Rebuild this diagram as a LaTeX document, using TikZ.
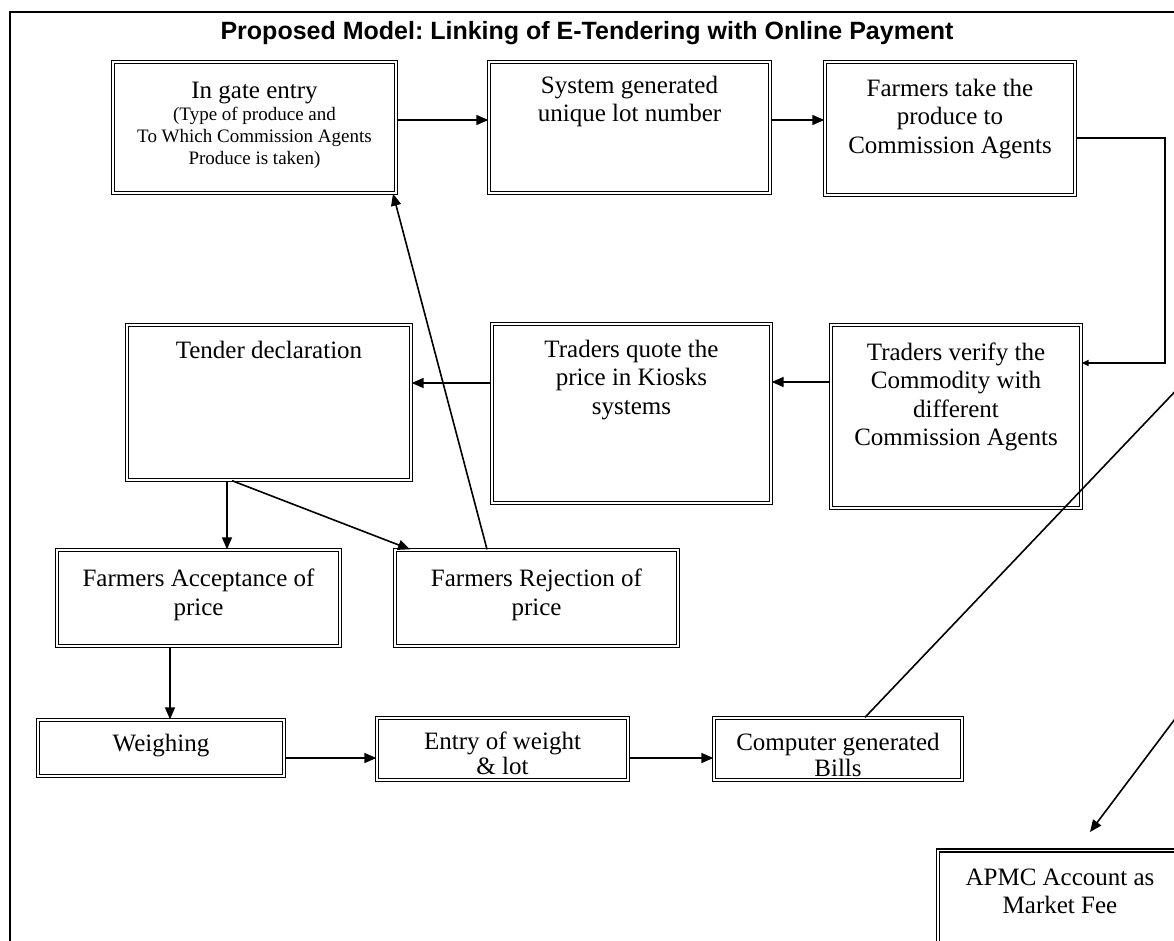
\documentclass[tikz,border=0pt]{standalone}
\usepackage{fontspec}
\setmainfont{Liberation Serif}
\newfontfamily\titlefont{Liberation Sans}
\usetikzlibrary{arrows.meta}
\frenchspacing
\begin{document}
\begin{tikzpicture}[x=1pt,y=-1pt,
  box/.style={draw, double, double distance=1.6pt, line width=1.35pt, inner sep=0pt},
  txt/.style={align=center, font=\fontsize{25}{28.5}\selectfont, inner sep=0pt},
  conn/.style={line width=1.6pt, -{Triangle[length=12pt,width=10pt]}},
  connsmall/.style={line width=1.6pt, -{Triangle[length=7pt,width=6pt]}},
  plain/.style={line width=1.6pt},
  frame/.style={line width=2.8pt},
  titlestyle/.style={font=\titlefont\bfseries\fontsize{25}{30}\selectfont, inner sep=0pt}
]
\clip (0,0) rectangle (1174,941);
\useasboundingbox (0,0) rectangle (1174,941);

% outer frame
\draw[frame] (10,960) -- (10,12) -- (1200,12);

\node[titlestyle] (title) at (587,33) {Proposed Model: Linking of E-Tendering with Online Payment};

% boxes (outer size minus about 4)
\node[box, minimum width=283pt, minimum height=131pt] (b1) at (254.5,127.5) {};
\node[box, minimum width=281pt, minimum height=131pt] (b2) at (629.5,127.5) {};
\node[box, minimum width=250pt, minimum height=133pt] (b3) at (950,128.5) {};
\node[box, minimum width=250pt, minimum height=183pt] (b4) at (956,416.5) {};
\node[box, minimum width=279pt, minimum height=179pt] (b5) at (631.5,413.5) {};
\node[box, minimum width=284pt, minimum height=155pt] (b6) at (269,402.5) {};
\node[box, minimum width=283pt, minimum height=96pt] (b7) at (198.5,598) {};
\node[box, minimum width=283pt, minimum height=96pt] (b8) at (536.5,598) {};
\node[box, minimum width=246pt, minimum height=56pt] (b9) at (161,748) {};
\node[box, minimum width=251pt, minimum height=62pt] (b10) at (502.5,749) {};
\node[box, minimum width=248pt, minimum height=62pt] (b11) at (838,749) {};
\node[box, minimum width=244pt, minimum height=107pt] (b12) at (1060,904) {};

% texts
\node[txt, font=\fontsize{19}{22}\selectfont] (t1) at (254.5,125) {{\fontsize{25}{22}\selectfont In gate entry}\\(Type of produce and\\To Which Commission Agents\\Produce is taken)};
\node[txt] (t2) at (629.5,101.5) {System generated\\unique lot number};
\node[txt] (t3) at (950,119) {Farmers take the\\produce to\\Commission Agents};
\node[txt] (t4) at (956,397) {Traders verify the\\Commodity with\\different\\Commission Agents};
\node[txt] (t5) at (631.5,380) {Traders quote the\\price in Kiosks\\systems};
\node[txt] (t6) at (269,350) {Tender declaration};
\node[txt] (t7) at (198.5,595) {Farmers Acceptance of\\price};
\node[txt] (t8) at (536.5,595) {Farmers Rejection of\\price};
\node[txt] (t9) at (161,746) {Weighing};
\node[txt, font=\fontsize{25}{25}\selectfont] (t10) at (502.5,753) {Entry of weight\\\& lot};
\node[txt, font=\fontsize{25}{26}\selectfont] (t11) at (838,755) {Computer generated\\Bills};
\node[txt] (t12) at (1060,891.5) {APMC Account as\\Market Fee};

% connectors
\draw[conn] (b1.east |- 0,120) -- (b2.west |- 0,120);
\draw[conn] (b2.east |- 0,120) -- (b3.west |- 0,120);
\coordinate (e1) at (1165,138);
\coordinate (e2) at (1165,363);
\draw[connsmall] (b3.east |- e1) -- (e1) -- (e2) -- (b4.east |- e2);
\draw[conn] (b4.west |- 0,382) -- (b5.east |- 0,382);
\draw[conn] (b5.west |- 0,383) -- (b6.east |- 0,383);
\draw[conn] (b6.south -| 227,0) -- (b7.north -| 227,0);
\draw[conn] (b6.south -| 232,0) -- (b8.north -| 410,0);
\draw[conn] (b8.north -| 487,0) -- (b1.south -| 393,0);
\draw[conn] (b7.south -| 170,0) -- (b9.north -| 170,0);
\draw[conn] (b9.east |- 0,758) -- (b10.west |- 0,758);
\draw[conn] (b10.east |- 0,758) -- (b11.west |- 0,758);
\coordinate (off1) at (1185,381);
\draw[plain] (b11.north -| 865,0) -- (off1);
\coordinate (off2) at (1190,699);
\coordinate (tip) at (1090,832);
\draw[conn] (off2) -- (tip);
\end{tikzpicture}
\end{document}
